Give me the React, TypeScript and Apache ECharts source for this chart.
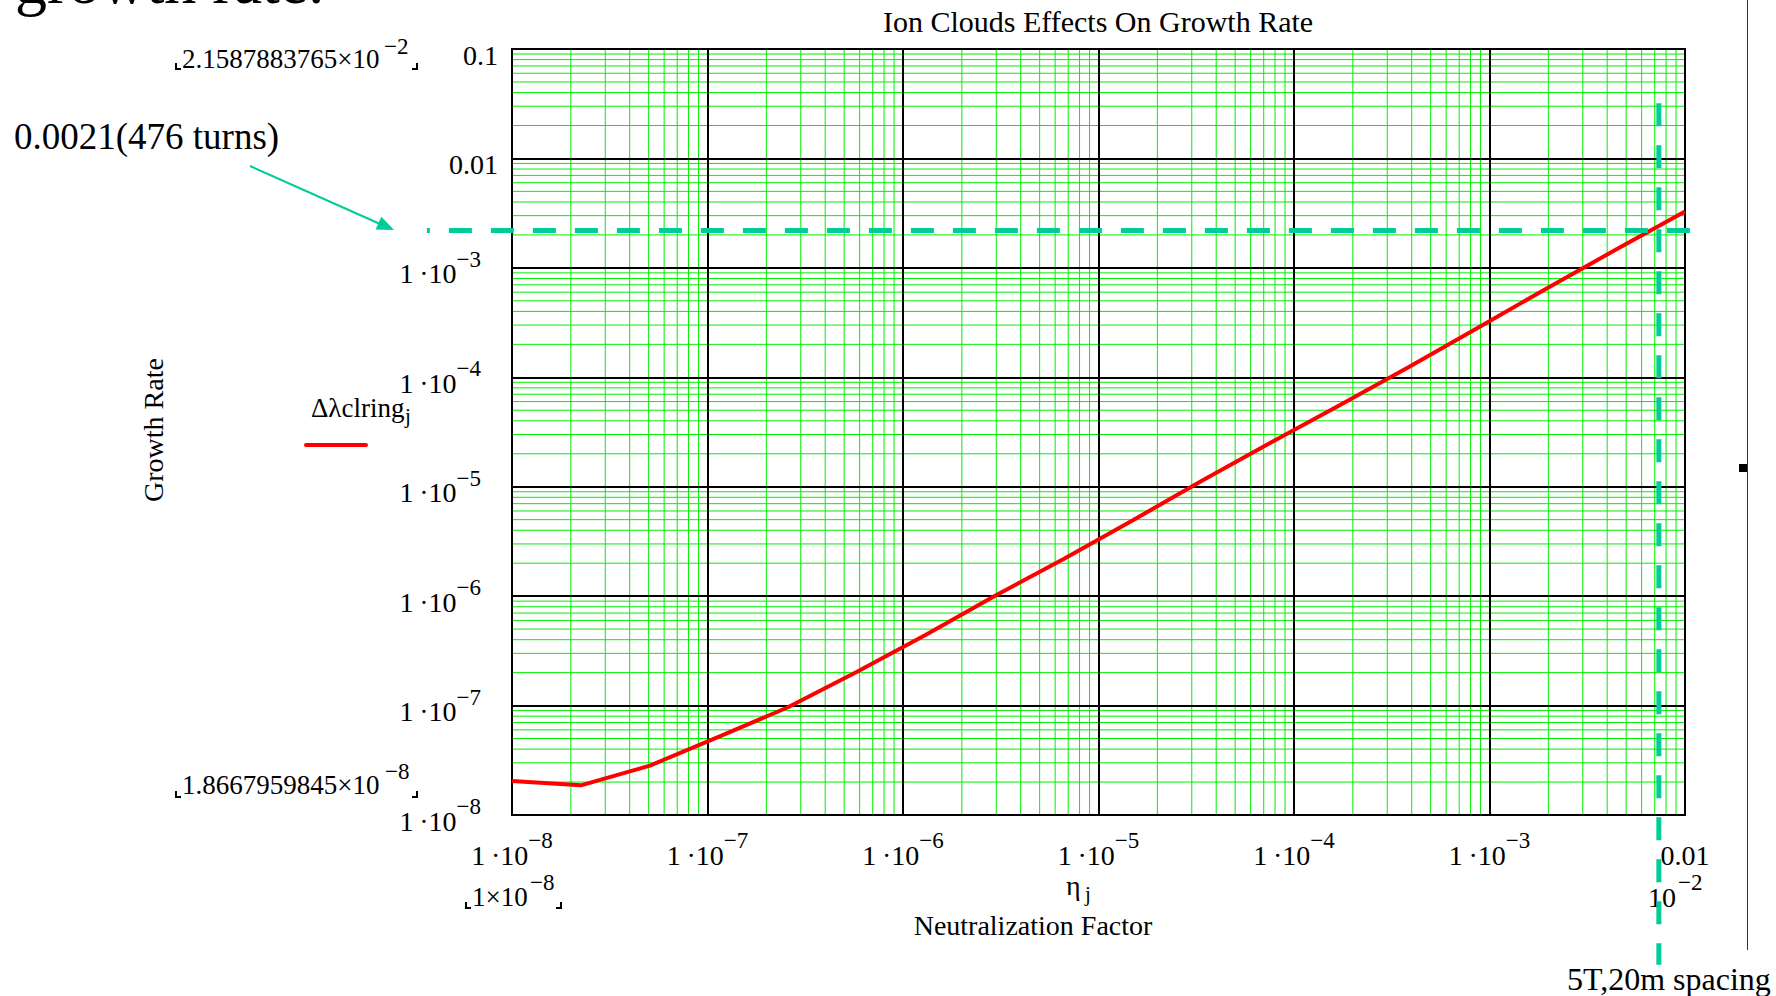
import React, { useEffect, useRef } from "react";
import * as echarts from "echarts";

// ---- data ----
const ETA = [
  1e-8, 2.25e-8, 5.08e-8, 1.146e-7, 2.58e-7, 5.82e-7, 1.31e-6, 2.96e-6, 6.67e-6,
  1.5e-5, 3.38e-5, 7.62e-5, 1.72e-4, 3.87e-4, 8.73e-4, 1.97e-3, 4.44e-3, 1e-2,
];
const GROWTH = [
  2.05e-8, 1.8668e-8, 2.83e-8, 5.2e-8, 9.66e-8, 2.04e-7, 4.43e-7, 1.007e-6, 2.2e-6,
  4.94e-6, 1.135e-5, 2.54e-5, 5.58e-5, 1.24e-4, 2.84e-4, 6.52e-4, 1.47e-3, 3.28e-3,
];

const X_MIN = 1e-8;
const X_MAX = 1e-2;
const Y_MIN = 1e-8;
const Y_MAX = 0.1;

const B = "1\u2009·10";
const X_TICK_BASE = [B, B, B, B, B, B, "0.01"];
const X_TICK_EXP = ["−8", "−7", "−6", "−5", "−4", "−3", ""];
const Y_TICK_BASE = [B, B, B, B, B, B, "0.01", "0.1"];
const Y_TICK_EXP = ["−8", "−7", "−6", "−5", "−4", "−3", "", ""];

const MINOR_MULT = [2, 3, 4, 5, 6, 7, 8, 9];
const X_DECADES = [1e-8, 1e-7, 1e-6, 1e-5, 1e-4, 1e-3];
const Y_DECADES = [1e-8, 1e-7, 1e-6, 1e-5, 1e-4, 1e-3, 1e-2];

// threshold line (≈0.0021, drawn as in the picture) and 5T,20m spacing marker
const THRESHOLD = 0.0022;
const H_LINE_X = [3.67e-9, 1.076e-2];
const SPACING_ETA = 7.35e-3;
const V_LINE_Y = [0.032, 4.27e-10];

const F = '"Liberation Serif", "Times New Roman", serif';
const TEAL = "#00cc99";

function minorsOf(decades: number[]) {
  const out: number[] = [];
  decades.forEach((d) => MINOR_MULT.forEach((m) => out.push(m * d)));
  return out;
}

export default function App() {
  const ref = useRef<HTMLDivElement>(null);
  useEffect(() => {
    if (!ref.current) return;
    const chart = echarts.init(ref.current, undefined, { renderer: "svg" });

    const minorX = minorsOf(X_DECADES);
    const minorY = minorsOf(Y_DECADES);

    const labelRichY = {
      b: { fontSize: 28, fontFamily: F, color: "#000", lineHeight: 40, verticalAlign: "bottom" },
      s: { fontSize: 23, fontFamily: F, color: "#000", lineHeight: 40, padding: [0, 17, 0, 0], verticalAlign: "top" },
    };
    const labelRichX = {
      b: { fontSize: 28, fontFamily: F, color: "#000", lineHeight: 40, verticalAlign: "bottom" },
      s: { fontSize: 23, fontFamily: F, color: "#000", lineHeight: 40, verticalAlign: "top" },
    };

    const fmt = (base: string[], exp: string[], min: number) => (v: number) => {
      const i = Math.round(Math.log10(v) - Math.log10(min));
      const b = base[i] ?? "";
      const e = exp[i] ?? "";
      return e ? `{b|${b}}{s|${e}}` : `{b|${b}}`;
    };

    const text = (t: string, x: number, y: number, size: number, align = "left", extra: any = {}) => ({
      type: "text",
      x,
      y,
      silent: true,
      ...extra,
      style: {
        text: t,
        font: `${size}px ${F}`,
        fill: "#000",
        textAlign: align,
        textVerticalAlign: "middle",
      },
    });

    const lbl = (x: number, y: number, left = true) => ({
      type: "polyline",
      silent: true,
      shape: {
        points: left
          ? [[x, y - 6], [x, y], [x + 5, y]]
          : [[x - 5, y], [x, y], [x, y - 6]],
      },
      style: { stroke: "#000", lineWidth: 2, fill: null },
    });

    const dashedSeg = (offset: number) => (_p: any, api: any) => {
      const a = api.coord([api.value(0), api.value(1)]);
      const b = api.coord([api.value(2), api.value(3)]);
      return {
        type: "line",
        shape: { x1: a[0], y1: a[1], x2: b[0], y2: b[1] },
        style: { stroke: TEAL, lineWidth: 5, lineDash: [23, 19], lineDashOffset: offset },
      };
    };

    const option: any = {
      animation: false,
      backgroundColor: "#fff",
      grid: {
        left: 512,
        top: 49,
        width: 1173,
        height: 766,
        show: true,
        borderColor: "#000",
        borderWidth: 2,
        backgroundColor: "transparent",
      },
      xAxis: {
        type: "log",
        logBase: 10,
        min: X_MIN,
        max: X_MAX,
        splitNumber: 6,
        z: 2,
        axisLine: { show: true, lineStyle: { color: "#000", width: 2 } },
        axisTick: { show: false },
        splitLine: { show: true, lineStyle: { color: "#000", width: 2 } },
        axisLabel: {
          show: true,
          interval: 0,
          margin: 14,
          showMinLabel: true,
          showMaxLabel: true,
          formatter: fmt(X_TICK_BASE, X_TICK_EXP, X_MIN),
          rich: labelRichX,
        },
      },
      yAxis: {
        type: "log",
        logBase: 10,
        min: Y_MIN,
        max: Y_MAX,
        splitNumber: 7,
        z: 2,
        axisLine: { show: true, lineStyle: { color: "#000", width: 2 } },
        axisTick: { show: false },
        splitLine: { show: true, lineStyle: { color: "#000", width: 2 } },
        axisLabel: {
          show: true,
          interval: 0,
          margin: 14,
          showMinLabel: true,
          showMaxLabel: true,
          formatter: fmt(Y_TICK_BASE, Y_TICK_EXP, Y_MIN),
          rich: labelRichY,
        },
      },
      series: [
        {
          type: "custom",
          coordinateSystem: "cartesian2d",
          silent: true,
          z: 1,
          data: minorX.map((v) => [v, Y_MIN]),
          encode: { x: 0, y: 1 },
          renderItem: (_p: any, api: any) => {
            const v = api.value(0);
            const a = api.coord([v, Y_MIN]);
            const b = api.coord([v, Y_MAX]);
            return {
              type: "line",
              shape: { x1: a[0], y1: a[1], x2: b[0], y2: b[1] },
              style: { stroke: "#00f000", lineWidth: 1 },
            };
          },
        },
        {
          type: "custom",
          coordinateSystem: "cartesian2d",
          silent: true,
          z: 1,
          data: minorY.map((v) => [X_MIN, v]),
          encode: { x: 0, y: 1 },
          renderItem: (_p: any, api: any) => {
            const v = api.value(1);
            const a = api.coord([X_MIN, v]);
            const b = api.coord([X_MAX, v]);
            return {
              type: "line",
              shape: { x1: a[0], y1: a[1], x2: b[0], y2: b[1] },
              style: { stroke: "#00f000", lineWidth: 1 },
            };
          },
        },
        {
          type: "line",
          name: "Δλclring",
          z: 3,
          silent: true,
          symbol: "none",
          data: ETA.map((x, i) => [x, GROWTH[i]]),
          lineStyle: { color: "#ff0000", width: 4 },
        },
        {
          type: "custom",
          coordinateSystem: "cartesian2d",
          silent: true,
          z: 4,
          data: [[H_LINE_X[0], THRESHOLD, H_LINE_X[1], THRESHOLD]],
          encode: { x: [0, 2], y: [1, 3] },
          renderItem: dashedSeg(20),
        },
        {
          type: "custom",
          coordinateSystem: "cartesian2d",
          silent: true,
          z: 4,
          data: [[SPACING_ETA, V_LINE_Y[0], SPACING_ETA, V_LINE_Y[1]]],
          encode: { x: [0, 2], y: [1, 3] },
          renderItem: dashedSeg(0),
        },
      ],
      graphic: [
        text("growth rate.", 15, -19, 64),
        text("Ion Clouds Effects On Growth Rate", 1098, 21, 30, "center"),
        text("0.0021(476 turns)", 14, 136, 37),
        // upper data-limit label
        text("2.1587883765×10", 182, 59, 27),
        text("−2", 384, 46, 23),
        lbl(176, 69, true),
        lbl(417, 69, false),
        // lower data-limit label
        text("1.8667959845×10", 182, 785, 27),
        text("−8", 385, 771, 23),
        lbl(176, 797, true),
        lbl(417, 797, false),
        // x-axis lower limit label
        text("1×10", 472, 897, 27),
        text("−8", 530, 882, 23),
        lbl(466, 908, true),
        lbl(561, 908, false),
        // x-axis upper limit label
        text("10", 1648, 897, 28),
        text("−2", 1678, 882, 23),
        // axis titles
        text("η", 1066, 885, 28),
        text("j", 1085, 894, 21),
        text("Neutralization Factor", 1033, 925, 28, "center"),
        text("Growth Rate", 153, 430, 28, "center", { rotation: Math.PI / 2 }),
        // legend
        text("Δλclring", 311, 408, 27),
        text("j", 405, 416, 21),
        {
          type: "line",
          silent: true,
          shape: { x1: 306, y1: 445, x2: 366, y2: 445 },
          style: { stroke: "#ff0000", lineWidth: 4, lineCap: "round" },
        },
        // arrow
        {
          type: "line",
          silent: true,
          shape: { x1: 250, y1: 166, x2: 379, y2: 223.5 },
          style: { stroke: TEAL, lineWidth: 2 },
        },
        {
          type: "polygon",
          silent: true,
          shape: { points: [[394, 230], [375.6, 229.5], [381.3, 216.7]] },
          style: { fill: TEAL },
        },
        text("5T,20m spacing", 1567, 979, 32),
        {
          type: "line",
          silent: true,
          shape: { x1: 1747.5, y1: 0, x2: 1747.5, y2: 950 },
          style: { stroke: "#333", lineWidth: 1 },
        },
        {
          type: "rect",
          silent: true,
          shape: { x: 1739, y: 464, width: 8, height: 8 },
          style: { fill: "#000" },
        },
      ],
    };

    chart.setOption(option);
    return () => chart.dispose();
  }, []);

  return (
    <div
      ref={ref}
      style={{ position: "fixed", left: 0, top: 0, width: 1776, height: 996, background: "#fff" }}
    />
  );
}
